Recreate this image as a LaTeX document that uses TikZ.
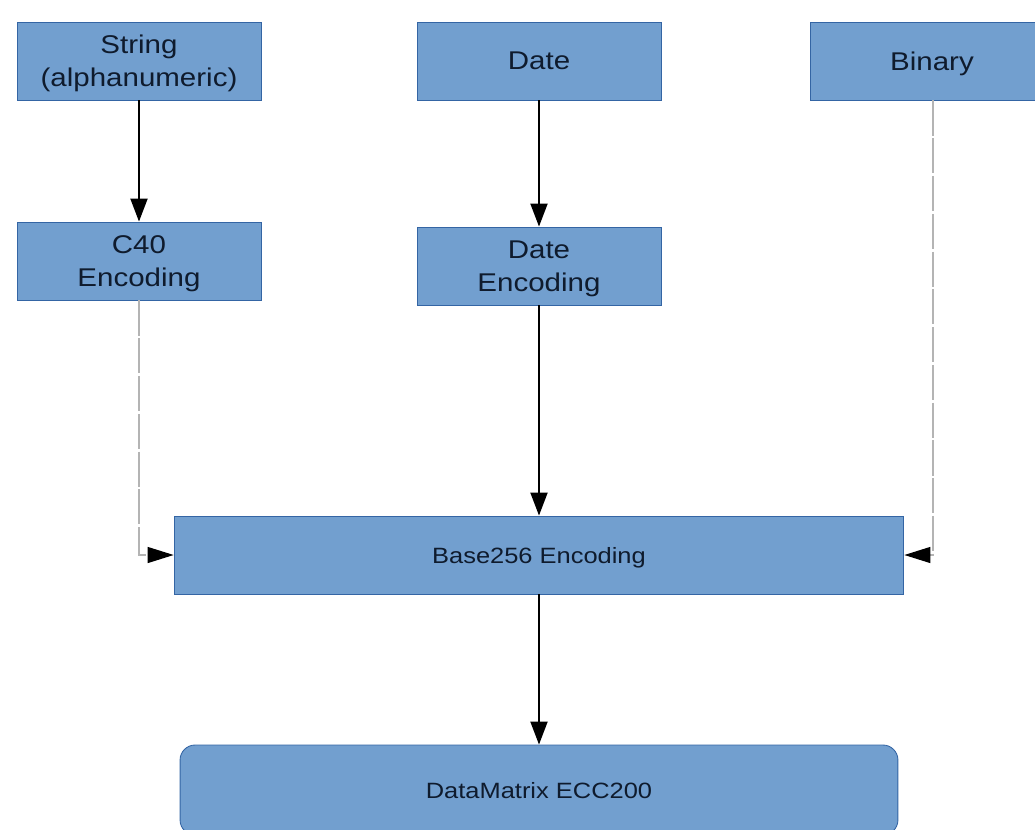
\documentclass[tikz,border=0pt]{standalone}
\usepackage{fontspec}
\setmainfont{Liberation Sans}[FakeStretch=1.15]
\usetikzlibrary{arrows.meta}
\definecolor{boxfill}{HTML}{729FCF}
\definecolor{boxline}{HTML}{3465A4}
\definecolor{txt}{HTML}{0F1B2D}
\definecolor{dashgray}{HTML}{B4B4B4}
\begin{document}
\begin{tikzpicture}[x=0.02cm,y=-0.02cm,
  box/.style={draw=boxline,fill=boxfill,line width=0.5pt,inner sep=0pt,
    minimum width=4.88cm,minimum height=1.56cm,text=txt,align=center,
    text depth=0pt,font=\fontsize{14.6}{18.8}\selectfont},
  wide/.style={box,minimum width=14.6cm,font=\fontsize{12.6}{15}\selectfont},
  rbox/.style={wide,rounded corners=0.3cm,minimum width=14.36cm,minimum height=1.8cm},
  flow/.style={line width=1.1pt,black,-{Triangle[length=0.46cm,width=0.34cm]}},
  dflow/.style={line width=0.7pt,dashgray,dash pattern=on 20pt off 1.5pt,
    -{Triangle[length=0.52cm,width=0.32cm,color=black,fill=black]}}]
\useasboundingbox (0,0) rectangle (1035,829);
\clip (0,0) rectangle (1035,829);
\node[box] (str) at (139,61) {String\\(alphanumeric)};
\node[box] (date) at (539,61) {Date};
\node[box] (bin) at (932,61) {Binary};
\node[box] (c40) at (139,261) {C40\\Encoding};
\node[box] (denc) at (539,266) {Date\\Encoding};
\node[wide] (b256) at (539,555) {Base256 Encoding};
\node[rbox] (dm) at (539,790) {DataMatrix ECC200};
\coordinate (lc) at (c40.south |- b256.west);
\coordinate (rc) at (933,0 |- b256.east);
\draw[flow] (str) -- (c40);
\draw[flow] (date) -- (denc);
\draw[flow] (denc) -- (b256);
\draw[flow] (b256) -- (dm);
\draw[dflow] (c40.south) -- (lc) -- (b256.west);
\draw[dflow] (bin.south -| rc) -- (rc) -- (b256.east);
\end{tikzpicture}
\end{document}
